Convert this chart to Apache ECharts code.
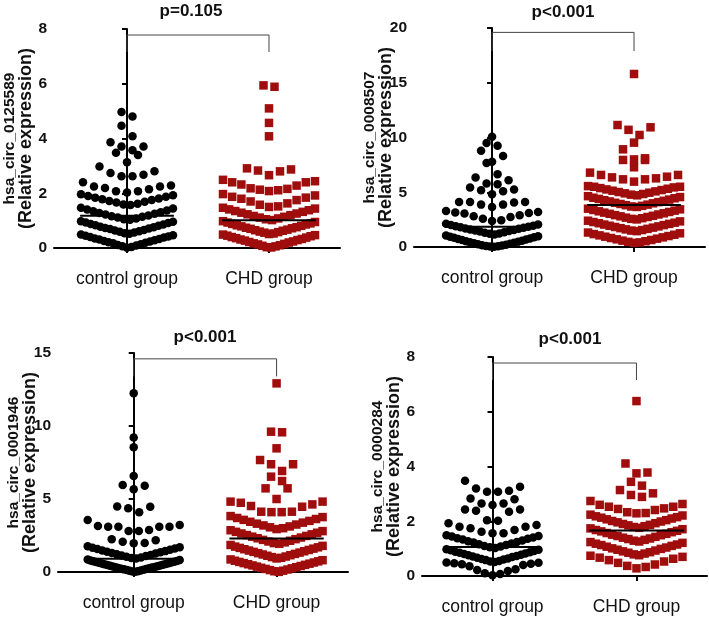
<!DOCTYPE html>
<html><head><meta charset="utf-8">
<script src="https://cdn.jsdelivr.net/npm/echarts@6/dist/echarts.min.js"></script>
<style>html,body{margin:0;padding:0;background:#fff}#c{width:709px;height:621px}</style>
</head><body><div id="c"></div>
<script>
// ---------------- data ----------------
const categories = ['control group', 'CHD group'];
const pLabels = ['p=0.105', 'p<0.001', 'p<0.001', 'p<0.001'];
const geneNames = ['hsa_circ_0125589', 'hsa_circ_0008507', 'hsa_circ_0001946', 'hsa_circ_0000284'];
const yNameSuffix = '(Relative expression)';
const yMax = [8, 20, 15, 8];
const yStep = [2, 5, 5, 2];

const control1 = [
  0.01,0.04,0.06,0.09,0.11,0.14,0.17,0.19,0.21,0.24,0.26,0.28,0.31,0.33,0.35,0.38,0.40,0.42,0.45,0.47,0.49,
  0.52,0.54,0.57,0.59,0.61,0.64,0.66,0.69,0.71,0.73,0.76,0.78,0.81,0.83,0.86,0.88,0.91,0.93,0.96,0.98,
  1.03,1.05,1.08,1.11,1.14,1.16,1.19,1.22,1.25,1.28,1.31,1.34,1.37,1.41,1.44,1.47,
  1.57,1.59,1.62,1.66,1.69,1.72,1.75,1.78,1.81,1.84,1.87,1.90,1.93,1.96,
  2.03,2.07,2.07,2.15,2.19,2.25,2.25,2.28,2.40,
  2.62,2.62,2.68,2.74,2.80,2.98,
  3.13,3.40,3.48,
  3.57,3.71,3.71,3.86,
  4.08,4.47,
  4.80,4.97
];
const chd1 = [
  0.02,0.03,0.06,0.08,0.10,0.13,0.15,0.17,0.20,0.22,0.24,0.27,0.29,0.31,0.33,0.36,0.38,0.40,0.43,0.45,0.47,0.49,
  0.51,0.53,0.56,0.58,0.60,0.63,0.65,0.67,0.70,0.72,0.74,0.76,0.79,0.81,0.83,0.86,0.88,0.90,0.93,0.95,0.98,
  1.02,1.05,1.08,1.11,1.14,1.17,1.20,1.23,1.26,1.29,1.32,1.35,1.38,1.41,1.44,1.47,
  1.50,1.52,1.58,1.63,1.70,1.75,1.80,1.84,1.87,1.92,1.97,
  2.08,2.11,2.13,2.16,2.18,2.28,2.32,2.40,2.40,2.44,2.49,
  2.66,2.80,2.83,2.87,2.91,
  4.08,4.57,5.10,5.89,5.94
];
const control2 = [
  0.02,0.04,0.06,0.10,0.13,0.17,0.20,0.25,0.30,0.34,0.38,0.43,0.48,0.53,0.58,0.63,0.68,0.73,0.78,0.84,0.89,0.94,0.99,1.05,
  1.15,1.20,1.24,1.30,1.35,1.41,1.46,1.50,1.56,1.60,1.66,1.70,1.76,1.80,1.85,1.90,1.95,2.00,2.06,2.12,
  2.38,2.44,2.59,2.74,2.80,2.90,3.05,3.11,3.14,3.20,3.29,
  3.66,3.87,3.87,4.06,4.12,4.12,4.12,
  4.82,5.10,5.19,5.25,5.43,
  5.74,5.80,6.10,6.35,
  6.65,7.68,
  7.78,8.32,8.78,
  9.24,9.50,
  10.06
];
const chd2 = [
  0.38,0.42,0.47,0.53,0.58,0.64,0.70,0.76,0.82,0.88,0.94,1.00,1.06,1.12,1.18,1.25,1.32,
  1.45,1.50,1.55,1.61,1.66,1.72,1.77,1.83,1.88,1.94,2.00,2.05,2.11,2.17,2.22,2.28,2.34,2.40,
  2.52,2.57,2.63,2.68,2.74,2.80,2.85,2.91,2.97,3.03,3.08,3.14,3.20,3.26,3.32,3.38,3.44,3.50,
  3.66,3.70,3.76,3.82,3.87,3.93,3.99,4.04,4.10,4.16,4.22,4.27,4.33,4.39,4.45,4.50,4.56,4.64,
  4.72,4.78,4.84,4.90,4.96,5.02,5.08,5.14,5.20,5.26,5.32,5.38,5.44,5.50,5.50,5.56,
  5.97,6.18,6.18,6.27,6.36,6.42,6.58,6.58,6.79,
  7.28,7.95,7.95,
  8.00,8.10,8.92,
  9.53,
  10.23,10.70,10.93,11.14,
  15.80
];
const control3 = [
  0.01,0.03,0.05,0.08,0.10,0.13,0.15,0.18,0.20,0.23,0.25,0.28,0.30,0.33,0.35,0.38,0.40,0.43,0.45,0.48,0.50,0.53,0.55,0.58,0.60,0.63,0.65,0.68,0.70,0.73,0.76,0.79,0.82,0.86,
  0.92,0.96,1.00,1.05,1.09,1.13,1.17,1.22,1.26,1.30,1.35,1.39,1.43,1.48,1.52,1.57,1.61,1.66,1.70,1.76,
  1.97,1.99,2.08,2.17,2.24,
  2.81,2.81,2.88,3.10,3.10,3.10,3.10,3.15,3.22,3.56,
  4.09,4.36,4.47,4.49,
  5.66,5.90,5.96,
  6.58,
  8.54,9.22,
  12.24
];
const chd3 = [
  0.01,0.05,0.09,0.13,0.17,0.21,0.25,0.29,0.33,0.37,0.41,0.45,0.49,0.53,0.57,0.61,0.65,0.69,0.73,0.77,0.81,0.86,
  0.93,0.97,1.02,1.06,1.11,1.15,1.20,1.24,1.29,1.33,1.38,1.42,1.47,1.51,1.56,1.60,1.65,1.69,1.74,1.79,1.85,
  1.93,1.98,2.03,2.09,2.14,2.20,2.25,2.31,2.36,2.42,2.47,2.53,2.58,2.64,2.69,2.75,2.80,2.86,
  2.94,3.00,3.06,3.12,3.19,3.25,3.31,3.38,3.44,3.50,3.57,3.63,3.70,3.76,3.83,
  4.10,4.10,4.13,4.13,4.47,4.52,4.63,4.74,4.82,4.82,
  5.00,5.73,5.73,
  6.23,6.53,
  6.92,7.38,7.38,7.67,
  8.47,
  9.57,9.61,
  12.92
];
const control4 = [
  0.03,0.07,0.10,0.18,0.22,0.25,0.36,0.40,0.43,0.45,0.47,0.48,0.49,
  0.51,0.53,0.55,0.58,0.60,0.62,0.64,0.67,0.69,0.71,0.73,0.76,0.78,0.80,0.82,0.85,0.87,0.89,0.91,0.94,0.96,0.98,
  1.02,1.05,1.08,1.10,1.13,1.16,1.19,1.22,1.24,1.27,1.30,1.33,1.36,1.38,1.41,1.44,1.46,1.49,
  1.56,1.56,1.62,1.68,1.74,1.80,1.80,1.86,1.93,
  2.02,2.04,2.35,2.38,2.43,2.43,
  2.59,2.65,2.65,2.80,2.83,
  3.08,3.08,3.11,3.20,3.26,3.48
];
const chd4 = [
  0.28,0.33,0.37,0.42,0.48,0.53,0.58,0.63,0.67,0.70,0.74,
  0.76,0.79,0.82,0.85,0.87,0.90,0.93,0.96,0.99,1.01,1.04,1.07,1.10,1.13,1.15,1.18,1.21,1.24,
  1.26,1.29,1.32,1.35,1.37,1.40,1.43,1.46,1.49,1.51,1.54,1.57,1.60,1.63,1.65,1.68,1.71,1.74,
  1.76,1.79,1.82,1.85,1.87,1.90,1.93,1.96,1.99,2.01,2.04,2.07,2.10,2.13,2.15,2.18,2.21,2.24,
  2.29,2.30,2.33,2.41,2.45,2.47,2.53,2.53,2.60,2.63,2.74,
  2.89,2.96,3.02,3.14,
  3.30,3.44,
  3.75,3.78,4.11,
  6.39
];
const controlMedian = [1.18, 1.85, 0.90, 1.06];
const chdMedian = [1.01, 3.84, 2.30, 1.66];

const controlData = [control1, control2, control3, control4];
const chdData = [chd1, chd2, chd3, chd4];

// ---------------- layout ----------------
const FONT = '"Liberation Sans", Arial, sans-serif';
const RED = '#a00d0d';
const layout = [
  {left: 54,  top: 29,  width: 286, height: 219, xMin: -0.514, xMax: 1.5,  bracket: [7.16, 7.78], title: [191, 11], bins: [[0.5, 0], [0.5, 0]]},
  {left: 414, top: 28,  width: 291, height: 219, xMin: -0.55,  xMax: 1.5,  bracket: [17.9, 19.6], title: [563, 12], bins: [[1.1, 0], [1.1, 0.3]]},
  {left: 58,  top: 353, width: 290, height: 219, xMin: -0.53,  xMax: 1.5,  bracket: [13.4, 14.6], title: [205, 337], bins: [[0.9, 0], [1.0, -0.1]]},
  {left: 422, top: 357, width: 285, height: 219, xMin: -0.49,  xMax: 1.49, bracket: [7.16, 7.78], title: [570, 339], bins: [[0.5, 0], [0.5, 0.25]]}
];
const MAX_HALF_PX = 46, MAX_STEP_PX = 11, MEDIAN_HALF = 0.33;

// Prism-style scatter-dot layout: bin by value, lowest value in centre, spread outwards
function swarm(values, center, binSize, binStart, pxPerUnit) {
  const bins = new Map();
  values.forEach(v => {
    const k = Math.floor((v - binStart) / binSize + 1e-9);
    if (!bins.has(k)) bins.set(k, []);
    bins.get(k).push(v);
  });
  const out = [];
  bins.forEach(arr => {
    arr.sort((a, b) => a - b);
    const n = arr.length;
    const step = n > 1 ? Math.min(MAX_STEP_PX, 2 * MAX_HALF_PX / (n - 1)) : 0;
    arr.forEach((v, i) => {
      let slot;
      if (n % 2 === 1) slot = i === 0 ? 0 : (i % 2 === 1 ? (i + 1) / 2 : -i / 2);
      else slot = (i % 2 === 0 ? 1 : -1) * (Math.floor(i / 2) + 0.5);
      out.push([center + slot * step / pxPerUnit, v]);
    });
  });
  return out;
}

const grid = [], xAxis = [], yAxis = [], series = [], graphic = [];
layout.forEach((L, i) => {
  grid.push({left: L.left, top: L.top, width: L.width, height: L.height, containLabel: false});
  const pxPerUnit = L.width / (L.xMax - L.xMin);
  xAxis.push({
    type: 'value', gridIndex: i, min: L.xMin, max: L.xMax,
    axisLine: {show: true, lineStyle: {color: '#000', width: 2}},
    axisTick: {show: true, customValues: [0, 1], length: 5, lineStyle: {color: '#000', width: 2}},
    axisLabel: {show: true, customValues: [0, 1], formatter: v => categories[Math.round(v)] || '',
      color: '#111', fontSize: 17.5, fontFamily: FONT, margin: 22},
    splitLine: {show: false}
  });
  yAxis.push({
    type: 'value', gridIndex: i, min: 0, max: yMax[i], interval: yStep[i],
    name: '{a|' + geneNames[i] + '}\n{b|' + yNameSuffix + '}', nameLocation: 'middle', nameGap: 19, nameRotate: 90,
    nameMoveOverlap: false,
    nameTextStyle: {color: '#111', fontWeight: 'bold', fontFamily: FONT, lineHeight: 17,
      rich: {
        a: {color: '#111', fontWeight: 'bold', fontSize: 15.5, fontFamily: FONT, lineHeight: 17},
        b: {color: '#111', fontWeight: 'bold', fontSize: 18, fontFamily: FONT, lineHeight: 17}
      }},
    axisLine: {show: true, lineStyle: {color: '#000', width: 2}},
    axisTick: {show: true, length: 5, lineStyle: {color: '#000', width: 2}},
    axisLabel: {color: '#111', fontWeight: 'bold', fontSize: 15.5, fontFamily: FONT, margin: 7},
    splitLine: {show: false}
  });
  series.push({
    type: 'scatter', xAxisIndex: i, yAxisIndex: i, symbol: 'circle', symbolSize: 8.5, silent: true,
    itemStyle: {color: '#000', opacity: 1},
    data: swarm(controlData[i], 0, L.bins[0][0], L.bins[0][1], pxPerUnit)
  });
  series.push({
    type: 'scatter', xAxisIndex: i, yAxisIndex: i, symbol: 'rect', symbolSize: 8.5, silent: true,
    itemStyle: {color: RED, opacity: 1},
    data: swarm(chdData[i], 1, L.bins[1][0], L.bins[1][1], pxPerUnit)
  });
  [[0, controlMedian[i]], [1, chdMedian[i]]].forEach(([c, m]) => {
    series.push({
      type: 'line', xAxisIndex: i, yAxisIndex: i, symbol: 'none', silent: true, z: 5,
      lineStyle: {color: '#000', width: 2},
      data: [[c - MEDIAN_HALF, m], [c + MEDIAN_HALF, m]]
    });
  });
  series.push({
    type: 'line', xAxisIndex: i, yAxisIndex: i, symbol: 'none', silent: true, z: 4,
    lineStyle: {color: '#444', width: 1},
    data: [[0, L.bracket[0]], [0, L.bracket[1]], [1, L.bracket[1]], [1, L.bracket[0]]]
  });
  graphic.push({
    type: 'text', x: L.title[0], y: L.title[1], silent: true,
    style: {text: pLabels[i], fill: '#111', font: 'bold 17px ' + FONT, textAlign: 'center', textVerticalAlign: 'middle'}
  });
});

const chart = echarts.init(document.getElementById('c'), null, {renderer: 'canvas'});
chart.setOption({animation: false, backgroundColor: '#fff', grid, xAxis, yAxis, series, graphic});
</script></body></html>
